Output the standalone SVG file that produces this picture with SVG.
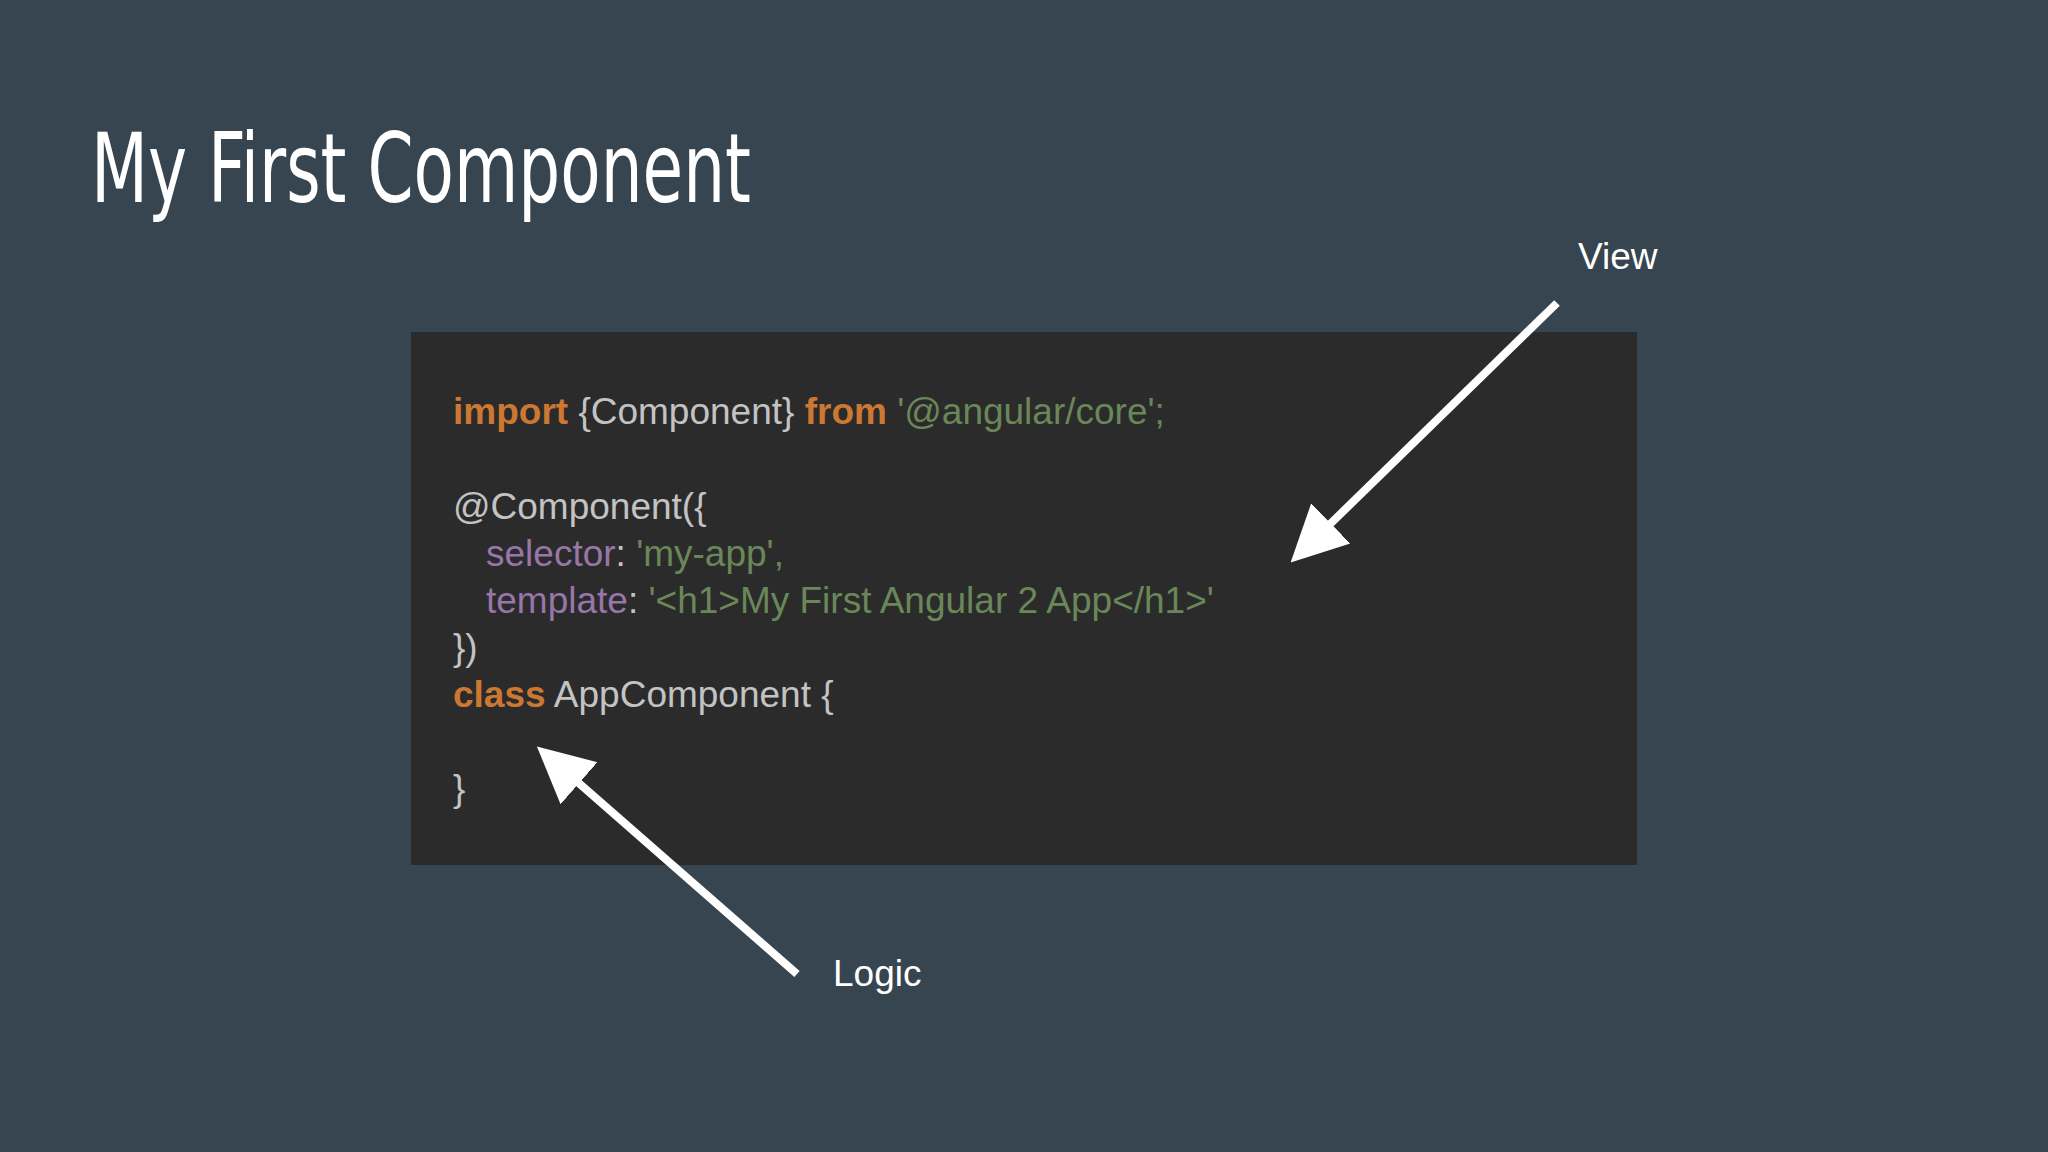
<svg xmlns="http://www.w3.org/2000/svg" width="2048" height="1152" viewBox="0 0 2048 1152">
<style>
.c{font-family:"Liberation Sans",Arial,sans-serif;font-size:37px;fill:#c3c3c3}
.k{fill:#cc7832;font-weight:bold}.s{fill:#6a8759}.p{fill:#9876aa}
.l{font-family:"Liberation Sans",Arial,sans-serif;font-size:37px;fill:#fff}
</style>
<defs><marker id="a" markerWidth="8" markerHeight="8" refX="1" refY="4" orient="auto" markerUnits="strokeWidth"><path d="M0,0.5 L7,4 L0,7.5 z" fill="#fff"/></marker></defs>
<rect width="2048" height="1152" fill="#36454f"/>
<text x="91" y="202" font-family="DejaVu Sans Condensed, sans-serif" font-size="96" fill="#fff" textLength="660" lengthAdjust="spacingAndGlyphs">My First Component</text>
<g id="code">
<rect x="411" y="332" width="1226" height="533" fill="#2b2b2b"/>
<text class="c" x="453" y="424"><tspan class="k">import</tspan> {Component} <tspan class="k">from</tspan> <tspan class="s">'@angular/core';</tspan></text>
<text class="c" x="453" y="519">@Component({</text>
<text class="c" x="486" y="566"><tspan class="p">selector</tspan>: <tspan class="s">'my-app',</tspan></text>
<text class="c" x="486" y="613"><tspan class="p">template</tspan>: <tspan class="s">'&lt;h1&gt;My First Angular 2 App&lt;/h1&gt;'</tspan></text>
<text class="c" x="453" y="660">})</text>
<text class="c" x="453" y="707"><tspan class="k">class</tspan> AppComponent {</text>
<text class="c" x="453" y="801">}</text>
</g>
<g id="view"><text class="l" x="1578" y="269">View</text></g>
<g id="logic"><text class="l" x="833" y="986">Logic</text></g>
<g id="connectors" stroke="#fff" stroke-width="8" fill="none">
<line x1="1557" y1="303" x2="1325" y2="529" marker-end="url(#a)"/>
<line x1="797" y1="974" x2="573" y2="778" marker-end="url(#a)"/>
</g>
</svg>
